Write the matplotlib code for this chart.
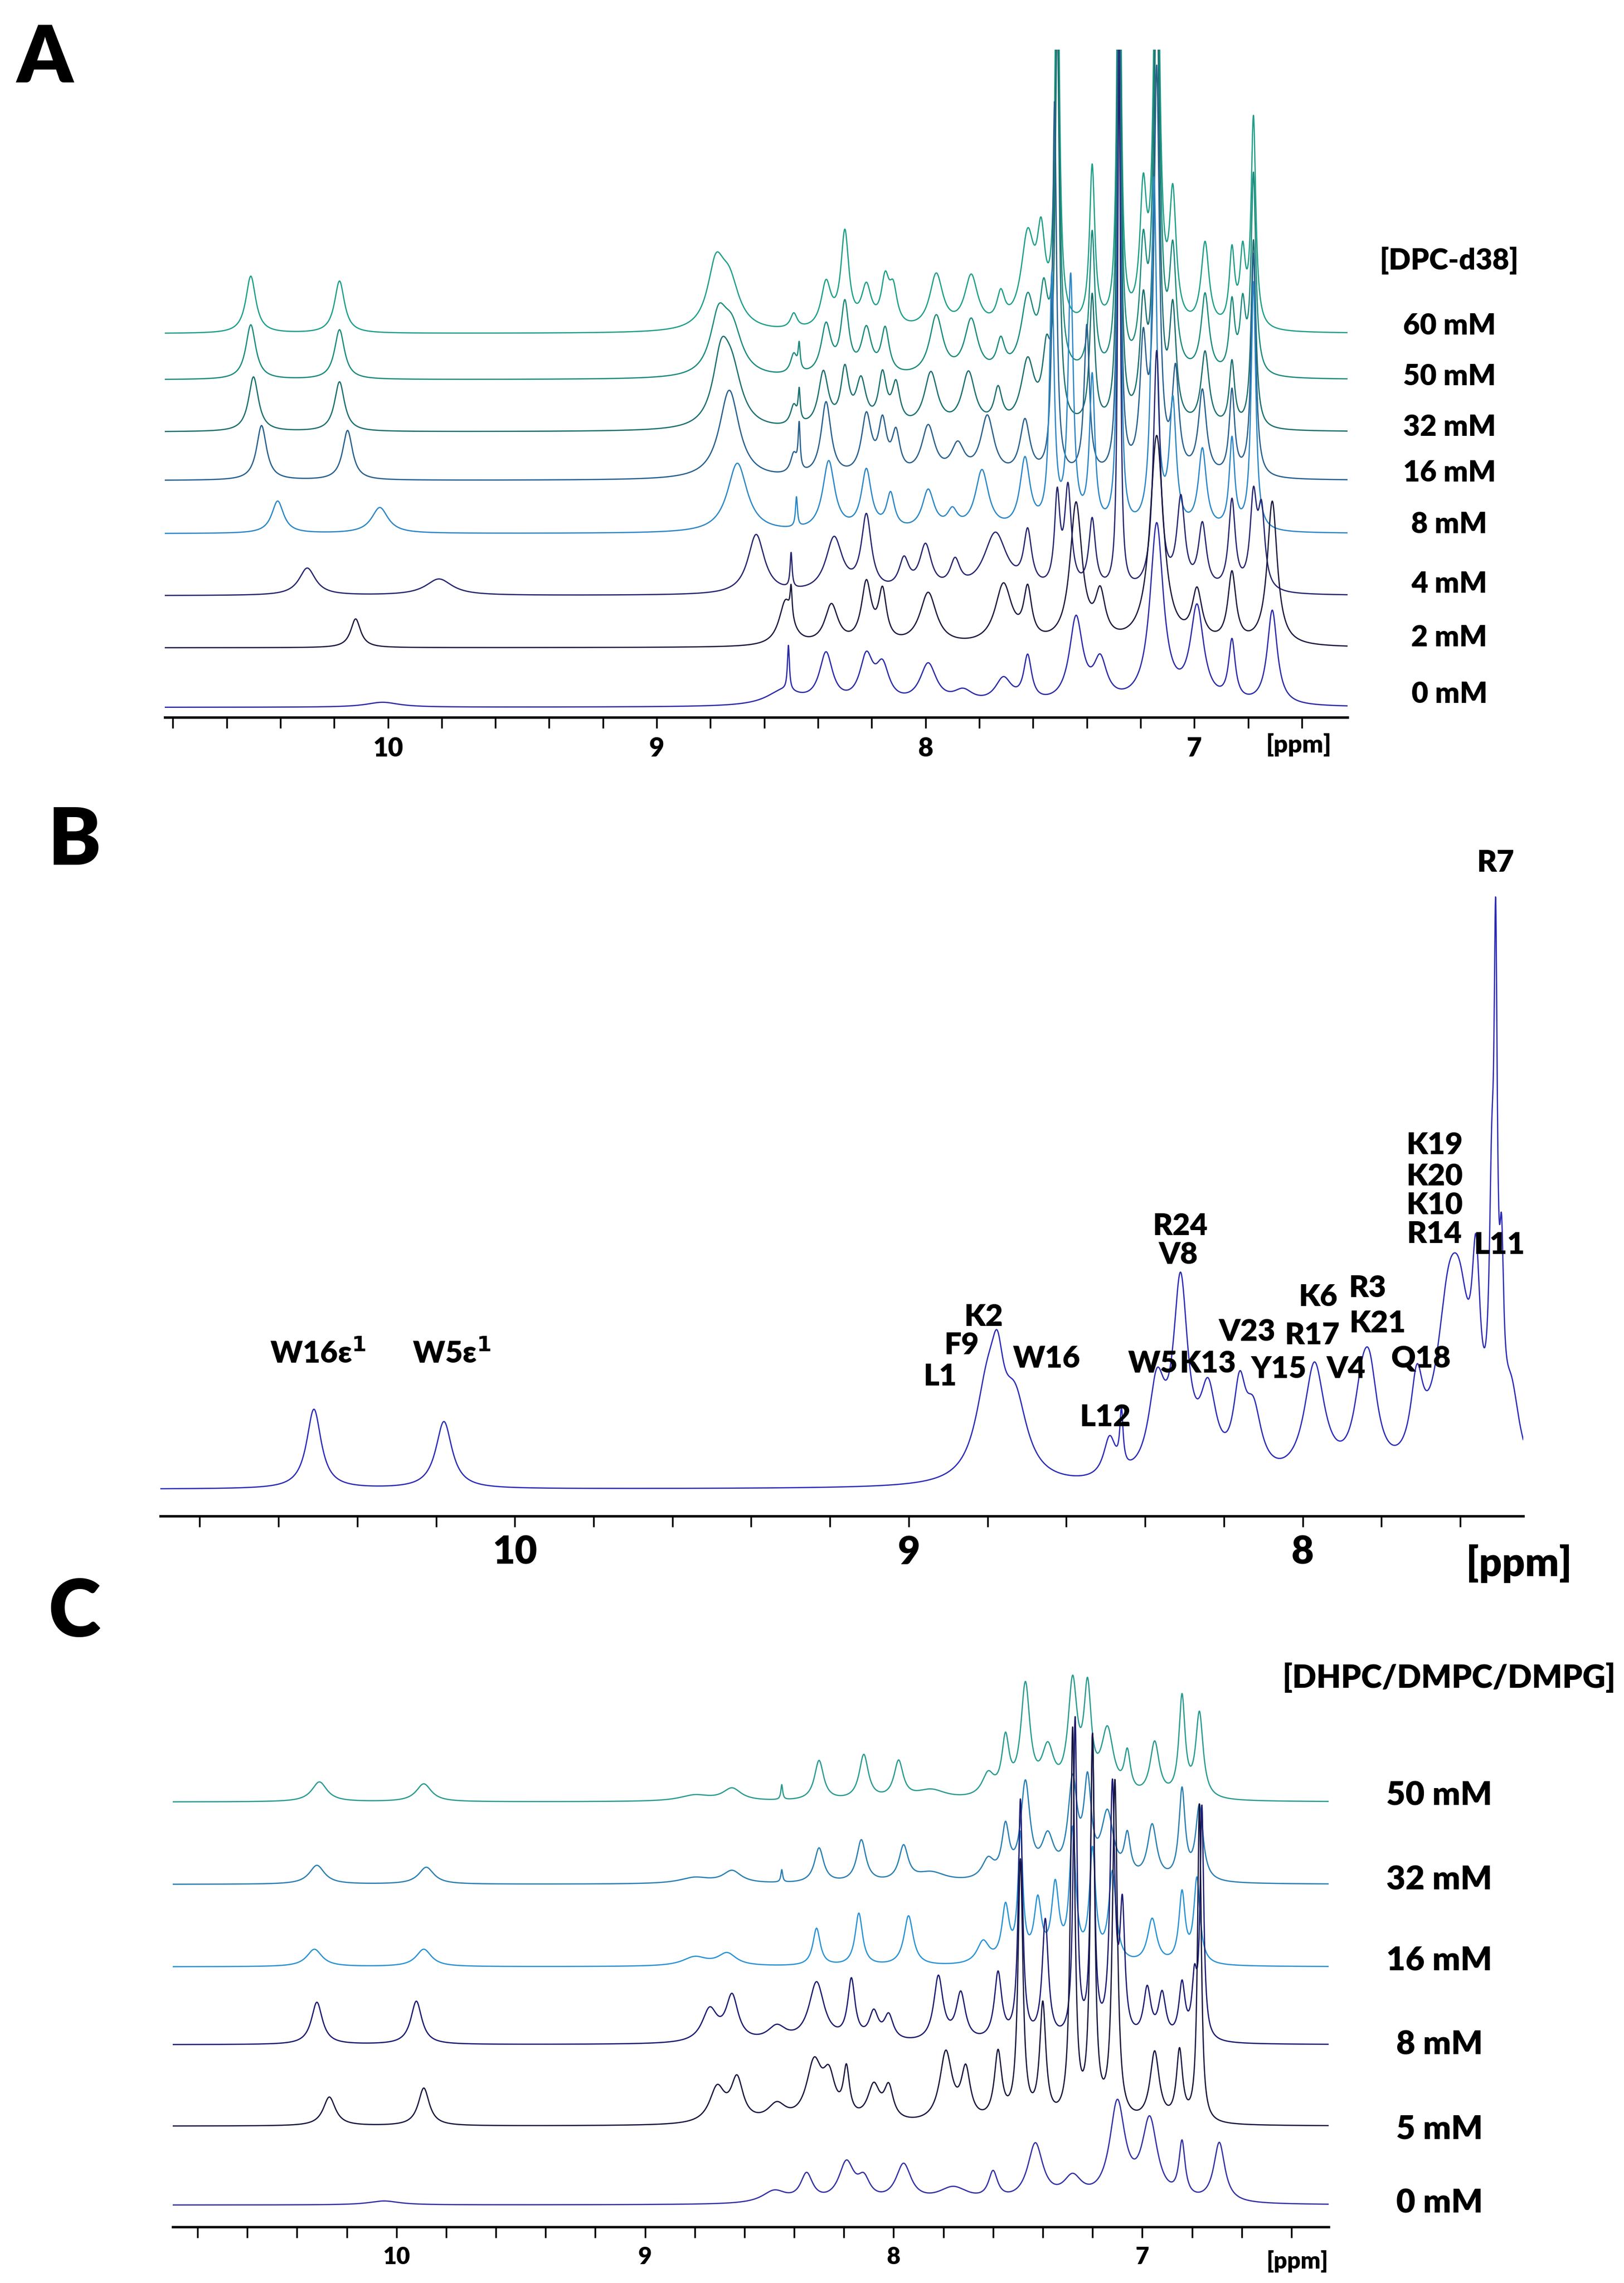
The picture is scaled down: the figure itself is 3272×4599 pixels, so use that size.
import numpy as np
import matplotlib.pyplot as plt
from matplotlib.ticker import MultipleLocator, FuncFormatter

plt.rcParams['font.family'] = ['Lato', 'DejaVu Sans']
plt.rcParams['font.weight'] = 'heavy'

W, H = 3272, 4599

# ---------------- panel A data: DPC-d38 titration, (ppm, height, hwhm) ----------------
a_labels = ['60 mM', '50 mM', '32 mM', '16 mM', '8 mM', '4 mM', '2 mM', '0 mM']
a_offsets = [753, 660, 555, 457, 350, 225, 120, 0]
a_colors = ['#1f9e88', '#1c8a7c', '#1b6e6e', '#275f8c', '#2b86c4', '#24246e', '#181840', '#2a2aa6']
a_60 = [(10.51, 115, 0.015), (10.18, 105, 0.015), (8.78, 120, 0.025), (8.73, 90, 0.03), (8.49, 30, 0.01),
        (8.37, 90, 0.015), (8.30, 190, 0.012), (8.22, 80, 0.015), (8.15, 90, 0.012), (8.12, 70, 0.012),
        (7.96, 110, 0.02), (7.83, 105, 0.02), (7.72, 60, 0.012), (7.62, 180, 0.02), (7.57, 160, 0.012),
        (7.51, 900, 0.006), (7.38, 320, 0.008), (7.28, 1200, 0.005), (7.19, 250, 0.01), (7.14, 1000, 0.008),
        (7.08, 250, 0.01), (6.96, 170, 0.012), (6.86, 150, 0.008), (6.82, 140, 0.008), (6.78, 420, 0.007)]
a_50 = [(10.51, 110, 0.015), (10.18, 100, 0.015), (8.77, 110, 0.025), (8.72, 90, 0.03), (8.49, 40, 0.01),
        (8.47, 50, 0.003), (8.37, 100, 0.015), (8.30, 140, 0.012), (8.22, 90, 0.015), (8.15, 90, 0.012),
        (7.96, 120, 0.02), (7.83, 110, 0.02), (7.72, 60, 0.012), (7.62, 150, 0.02), (7.56, 140, 0.012),
        (7.51, 900, 0.006), (7.38, 280, 0.008), (7.28, 1200, 0.005), (7.19, 230, 0.01), (7.14, 1000, 0.008),
        (7.08, 230, 0.01), (6.96, 160, 0.012), (6.86, 140, 0.008), (6.82, 130, 0.008), (6.78, 400, 0.007)]
a_32 = [(10.50, 110, 0.015), (10.18, 100, 0.015), (8.76, 130, 0.025), (8.72, 100, 0.03), (8.49, 40, 0.01),
        (8.47, 60, 0.003), (8.38, 110, 0.015), (8.30, 110, 0.012), (8.24, 90, 0.015), (8.16, 100, 0.012),
        (8.11, 80, 0.012), (7.98, 110, 0.02), (7.84, 110, 0.02), (7.73, 70, 0.012), (7.62, 130, 0.02),
        (7.55, 130, 0.012), (7.51, 800, 0.006), (7.38, 260, 0.008), (7.28, 1100, 0.005), (7.19, 220, 0.01),
        (7.14, 900, 0.008), (7.08, 220, 0.01), (6.96, 150, 0.012), (6.86, 130, 0.008), (6.78, 380, 0.007)]
a_16 = [(10.47, 110, 0.015), (10.15, 100, 0.015), (8.73, 180, 0.03), (8.49, 40, 0.01), (8.47, 90, 0.003),
        (8.37, 150, 0.015), (8.22, 120, 0.015), (8.16, 100, 0.012), (8.11, 80, 0.012), (7.99, 100, 0.02),
        (7.88, 60, 0.02), (7.77, 120, 0.02), (7.63, 110, 0.015), (7.52, 750, 0.006), (7.40, 300, 0.008),
        (7.28, 1000, 0.005), (7.19, 250, 0.01), (7.14, 800, 0.008), (7.07, 200, 0.01), (6.97, 170, 0.012),
        (6.86, 170, 0.008), (6.78, 450, 0.007)]
a_8 = [(10.41, 65, 0.018), (10.03, 52, 0.025), (8.70, 140, 0.03), (8.48, 60, 0.003), (8.36, 140, 0.018),
       (8.22, 120, 0.015), (8.13, 70, 0.012), (7.99, 80, 0.018), (7.90, 35, 0.015), (7.79, 120, 0.02),
       (7.63, 140, 0.015), (7.53, 500, 0.007), (7.46, 500, 0.008), (7.38, 300, 0.008), (7.28, 1000, 0.005),
       (7.15, 700, 0.008), (7.08, 250, 0.01), (6.97, 160, 0.012), (6.86, 180, 0.008), (6.78, 500, 0.007)]
a_4 = [(10.30, 55, 0.025), (9.81, 33, 0.04), (8.63, 120, 0.025), (8.50, 70, 0.003), (8.34, 110, 0.025),
       (8.22, 150, 0.015), (8.08, 60, 0.015), (8.00, 90, 0.018), (7.89, 55, 0.015), (7.74, 120, 0.035),
       (7.62, 110, 0.012), (7.51, 180, 0.008), (7.47, 200, 0.01), (7.38, 140, 0.01), (7.28, 1100, 0.004),
       (7.14, 480, 0.01), (7.05, 180, 0.012), (6.97, 130, 0.012), (6.86, 180, 0.01), (6.78, 180, 0.01),
       (6.75, 150, 0.01)]
a_2 = [(10.12, 58, 0.015), (8.52, 90, 0.02), (8.50, 60, 0.003), (8.35, 80, 0.02), (8.22, 120, 0.015),
       (8.16, 100, 0.012), (7.99, 105, 0.025), (7.71, 120, 0.025), (7.62, 100, 0.012), (7.44, 280, 0.018),
       (7.35, 90, 0.015), (7.14, 420, 0.02), (6.99, 100, 0.015), (6.86, 140, 0.012), (6.71, 290, 0.015)]
a_0 = [(10.02, 10, 0.05), (8.53, 30, 0.05), (8.51, 90, 0.003), (8.37, 100, 0.02), (8.22, 90, 0.02),
       (8.16, 70, 0.02), (7.99, 80, 0.025), (7.86, 25, 0.03), (7.71, 50, 0.025), (7.62, 90, 0.012),
       (7.44, 170, 0.02), (7.35, 80, 0.02), (7.14, 360, 0.02), (6.99, 190, 0.02), (6.86, 120, 0.01),
       (6.71, 190, 0.015)]
a_peaks = [a_60, a_50, a_32, a_16, a_8, a_4, a_2, a_0]

# ---------------- panel B data: assignments ----------------
b_peaks = [(10.51, 160, 0.018), (10.18, 135, 0.02), (8.80, 180, 0.03), (8.775, 130, 0.015), (8.73, 150, 0.03),
           (8.49, 80, 0.015), (8.46, 110, 0.004), (8.37, 180, 0.02), (8.31, 380, 0.018), (8.24, 160, 0.02),
           (8.16, 160, 0.015), (8.125, 120, 0.02), (7.97, 230, 0.025), (7.85, 120, 0.02), (7.83, 170, 0.02),
           (7.71, 160, 0.015), (7.63, 300, 0.03), (7.60, 220, 0.025), (7.56, 320, 0.01), (7.52, 420, 0.006),
           (7.51, 880, 0.004), (7.495, 300, 0.005), (7.47, 150, 0.02)]
b_names = ['W16ε$^1$', 'W5ε$^1$', 'L1', 'F9', 'K2', 'W16', 'L12', 'W5', 'K13', 'R24', 'V8', 'V23', 'Y15',
           'R17', 'K6', 'V4', 'R3', 'K21', 'Q18', 'K19', 'K20', 'K10', 'R14', 'L11', 'R7']
b_name_ppm = [10.50, 10.16, 8.92, 8.865, 8.81, 8.65, 8.50, 8.38, 8.24, 8.31, 8.315, 8.14, 8.06,
              7.975, 7.96, 7.89, 7.835, 7.81, 7.70, 7.665, 7.665, 7.665, 7.665, 7.50, 7.51]
b_name_h = [273, 273, 227, 290, 347, 263, 145, 253, 253, 530, 472, 317, 242,
            310, 387, 242, 405, 334, 263, 693, 630, 572, 514, 492, 1262]

# ---------------- panel C data: bicelle titration ----------------
c_labels = ['50 mM', '32 mM', '16 mM', '8 mM', '5 mM', '0 mM']
c_offsets = [812, 646, 480, 323, 159, 0]
c_colors = ['#2a9a90', '#2a7eb0', '#2a92d2', '#1a1a70', '#151540', '#3030a2']
c_50 = [(10.31, 40, 0.025), (9.89, 36, 0.025), (8.80, 12, 0.05), (8.65, 25, 0.03), (8.45, 30, 0.003),
        (8.30, 80, 0.015), (8.12, 90, 0.015), (7.98, 75, 0.015), (7.85, 20, 0.05), (7.62, 45, 0.02),
        (7.55, 110, 0.012), (7.47, 220, 0.015), (7.38, 90, 0.02), (7.28, 220, 0.015), (7.22, 200, 0.012),
        (7.14, 130, 0.02), (7.06, 80, 0.01), (6.95, 110, 0.015), (6.84, 200, 0.01), (6.77, 170, 0.012)]
c_32 = [(10.32, 38, 0.025), (9.88, 34, 0.025), (8.80, 12, 0.05), (8.65, 25, 0.03), (8.45, 25, 0.003),
        (8.30, 70, 0.015), (8.13, 85, 0.015), (7.96, 70, 0.015), (7.85, 20, 0.05), (7.62, 40, 0.02),
        (7.55, 100, 0.012), (7.47, 190, 0.015), (7.38, 80, 0.02), (7.28, 190, 0.015), (7.22, 180, 0.012),
        (7.14, 130, 0.02), (7.06, 80, 0.01), (6.96, 110, 0.015), (6.84, 180, 0.01), (6.77, 150, 0.012)]
c_16 = [(10.33, 35, 0.025), (9.89, 35, 0.025), (8.80, 18, 0.04), (8.67, 25, 0.03), (8.31, 75, 0.012),
        (8.14, 105, 0.012), (7.94, 100, 0.015), (7.64, 45, 0.02), (7.55, 110, 0.012), (7.49, 250, 0.008),
        (7.42, 120, 0.012), (7.35, 150, 0.012), (7.28, 260, 0.01), (7.20, 220, 0.01), (7.12, 180, 0.012),
        (6.96, 90, 0.015), (6.84, 140, 0.01), (6.78, 170, 0.01)]
c_8 = [(10.32, 85, 0.018), (9.92, 87, 0.018), (8.74, 65, 0.025), (8.65, 90, 0.02), (8.47, 30, 0.03),
       (8.31, 120, 0.025), (8.17, 120, 0.012), (8.08, 55, 0.015), (8.02, 50, 0.015), (7.82, 130, 0.015),
       (7.73, 95, 0.015), (7.58, 135, 0.012), (7.49, 480, 0.007), (7.39, 240, 0.01), (7.27, 640, 0.006),
       (7.20, 600, 0.006), (7.12, 500, 0.008), (7.08, 250, 0.008), (6.98, 100, 0.012), (6.92, 90, 0.012),
       (6.84, 110, 0.01), (6.79, 110, 0.008), (6.76, 460, 0.006)]
c_5 = [(10.27, 58, 0.02), (9.89, 76, 0.018), (8.71, 70, 0.025), (8.63, 85, 0.02), (8.47, 35, 0.03),
       (8.32, 115, 0.025), (8.26, 80, 0.02), (8.19, 95, 0.01), (8.08, 70, 0.02), (8.02, 65, 0.015),
       (7.79, 140, 0.02), (7.71, 100, 0.015), (7.58, 135, 0.012), (7.49, 520, 0.008), (7.40, 230, 0.01),
       (7.28, 780, 0.007), (7.20, 760, 0.007), (7.11, 680, 0.008), (6.95, 140, 0.015), (6.85, 140, 0.01),
       (6.77, 640, 0.006)]
c_0 = [(10.05, 8, 0.05), (8.48, 25, 0.04), (8.35, 55, 0.02), (8.19, 78, 0.025), (8.12, 40, 0.02),
       (7.96, 75, 0.025), (7.76, 30, 0.05), (7.60, 55, 0.015), (7.43, 115, 0.025), (7.28, 45, 0.03),
       (7.10, 195, 0.025), (6.97, 160, 0.025), (6.84, 110, 0.01), (6.69, 120, 0.018)]
c_peaks = [c_50, c_32, c_16, c_8, c_5, c_0]


def spectrum(ppm, peaks, broad=1.0):
    # sum of lorentzians; broad widens the lines a bit for the rendered look
    y = np.zeros_like(ppm)
    for p0, h, w in peaks:
        w = w * broad
        y += h * w**2 / ((ppm - p0)**2 + w**2)
    return y


def make_axes(left, right, top, bottom, xlim, ylim, tick_fs):
    ax = fig.add_axes([left / W, 1 - bottom / H, (right - left) / W, (bottom - top) / H])
    ax.set_xlim(*xlim)
    ax.set_ylim(*ylim)
    for s in ['top', 'left', 'right']:
        ax.spines[s].set_visible(False)
    ax.spines['bottom'].set_linewidth(3.5)
    ax.set_yticks([])
    ax.xaxis.set_major_locator(MultipleLocator(0.2))
    ax.xaxis.set_major_formatter(FuncFormatter(
        lambda v, pos: '%d' % round(v) if abs(v - round(v)) < 1e-6 else ''))
    ax.tick_params(axis='x', length=16, width=2.5, labelsize=tick_fs, pad=12)
    for t in ax.get_xticklabels():
        t.set_fontweight('heavy')
    ax.patch.set_alpha(0)
    return ax


def ftext(x, y, s, size, **kw):
    fig.text(x / W, 1 - y / H, s, fontsize=size, fontweight='heavy', ha='center', va='center', **kw)


fig = plt.figure(figsize=(W / 100, H / 100), dpi=100)

# panel A
axA = make_axes(332, 2715, 100, 1445, (10.83, 6.43), (-20, 1325), 38)
x = np.linspace(10.83, 6.43, 6000)
for pk, off, col in zip(a_peaks, a_offsets, a_colors):
    axA.plot(x, spectrum(x, pk, 1.5) + off, color=col, lw=1.8)
ftext(2920, 525, '[DPC-d38]', 42)
for lab, yy in zip(a_labels, [657, 759, 861, 952, 1057, 1177, 1285, 1399]):
    ftext(2920, yy, lab, 42)
ftext(2616, 1500, '[ppm]', 36)
ftext(90, 120, 'A', 115)

# panel B
axB = make_axes(323, 3069, 1740, 3054, (10.90, 7.44), (-54, 1260), 56)
x = np.linspace(10.90, 7.44, 6000)
axB.plot(x, spectrum(x, b_peaks, 1.25), color='#2a2ab4', lw=1.8)
for nm, px, ph in zip(b_names, b_name_ppm, b_name_h):
    axB.text(px, ph, nm, fontsize=44, fontweight='heavy', ha='center', va='center')
ftext(3060, 3150, '[ppm]', 58)
ftext(150, 1695, 'B', 115)

# panel C
axC = make_axes(348, 2677, 3330, 4486, (10.90, 6.25), (-44, 1112), 34)
x = np.linspace(10.90, 6.25, 6000)
for pk, off, col in zip(c_peaks, c_offsets, c_colors):
    axC.plot(x, spectrum(x, pk, 1.5) + off, color=col, lw=1.8)
ftext(2919, 3381, '[DHPC/DMPC/DMPG]', 46)
for lab, yy in zip(c_labels, [3617, 3787, 3949, 4119, 4289, 4438]):
    ftext(2900, yy, lab, 48)
ftext(2614, 4556, '[ppm]', 34)
ftext(150, 3250, 'C', 115)

fig.savefig('out.png', dpi=100)
